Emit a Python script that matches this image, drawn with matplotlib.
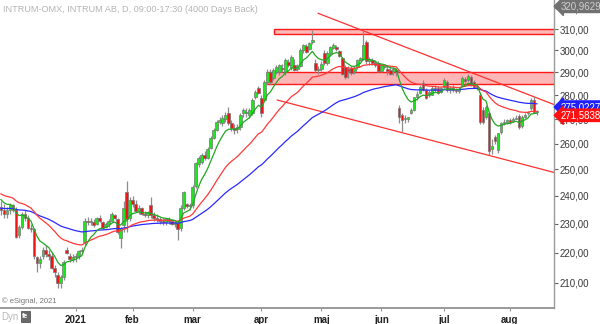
import matplotlib
matplotlib.use("Agg")
import matplotlib.pyplot as plt
import matplotlib.transforms as mtransforms
import numpy as np
from matplotlib.patches import Rectangle
from matplotlib.ticker import FuncFormatter, NullLocator

plt.rcParams['font.family'] = ['Liberation Sans', 'DejaVu Sans']

title = "INTRUM-OMX, INTRUM AB, D, 09:00-17:30 (4000 Days Back)"

# daily bars, one entry per trading day (Dec 2020 .. mid Aug 2021)
opens = [
    # dec
    236, 235, 233.5, 235, 236.5, 235, 226, 229, 233.5, 232, 228.5, 228, 218.5, 216.5, 219, 221, 219.5, 219, 215, 212.5, 210, 212, 221, 219, 218,
    # jan
    218.5, 219, 220.5, 223.5, 231, 230.5, 230.5, 230, 232, 230.5, 229, 230, 231, 233, 231.5, 225, 229.5, 241.5, 232,
    # feb
    238.5, 237, 234.5, 235.5, 233.5, 233, 236.5, 233, 232, 231.5, 231, 230.5, 231.5, 231, 230, 230.3, 228.6, 235.5, 237, 236.2,
    # mar
    236.8, 243.5, 252, 253, 255.5, 254.5, 258.3, 262.3, 265.5, 268.8, 268.4, 270, 272.5, 268.4, 266.5, 265.8, 266.7, 272.5, 272.5, 271.7, 272.5, 279.3, 283.1,
    # apr
    278.9, 278, 285.6, 290, 287.6, 290.2, 290.2, 292, 290.2, 294.7, 292.5, 293.4, 291.5, 293, 300, 302, 300.5, 303.9, 294.3, 291,
    # maj
    291.5, 298.9, 294.3, 298.9, 301.1, 301.5, 299.5, 296.5, 292.4, 291.5, 292, 290.5, 292.4, 295.6, 296, 303.9, 295, 295.5, 294.3, 294.3,
    # jun
    290.5, 292.5, 291.5, 291, 290.5, 291, 274.6, 271.7, 270, 270.2, 272.5, 274, 279.3, 281, 285.4, 282.3, 280, 280.2, 283, 283, 281.5,
    # jul
    283.6, 285.8, 282.5, 283, 282.5, 282, 284.5, 287, 286.5, 288, 285.8, 283.5, 280.2, 273.8, 271, 272.5, 258, 262.7, 257.5, 264.7, 268.4, 268.5,
    # aug
    269.6, 269.2, 270.2, 271.3, 267, 271, 272.5, 274.6, 278, 273,
]
highs = [
    238, 237, 236, 237.5, 237, 236, 229.5, 234, 235, 233, 230, 228.5, 219, 219, 222, 222.5, 221, 220, 216, 213.5, 212.5, 217.5, 222, 220, 219.5,
    220, 221, 222, 232, 232.5, 232, 231.5, 232.5, 233, 231, 230.5, 231.5, 234, 233.5, 232, 229, 238, 245.5, 239.5,
    240, 238.5, 236.5, 236, 234.5, 234.5, 239.5, 234, 233.5, 232.5, 232, 232, 232.5, 231.5, 231, 231, 236.5, 242, 237.5, 237.5,
    244, 253, 255, 256.5, 257, 258.5, 263, 266.5, 269.5, 271, 271.5, 273, 275, 269.5, 268, 268, 272.5, 274.5, 274.5, 274.5, 279, 282.5, 284,
    280, 286.5, 291.5, 291.5, 292, 293.5, 294, 294, 296.5, 296, 298, 296, 294, 301, 303, 303, 304, 309.5, 296, 293,
    295, 300, 299.5, 302, 303.5, 302.5, 300, 297, 293.5, 293, 293, 293, 296, 297, 309.5, 305, 297, 296.5, 295.5, 295,
    293.5, 293.5, 293, 292.5, 292.5, 292, 276, 272.5, 271.5, 271, 274.5, 279.5, 282, 284.5, 286.5, 283, 282.5, 284, 284.5, 284, 283.5,
    287.5, 286.5, 284, 284.5, 283, 283.5, 288.5, 288, 289.5, 289, 286.5, 285, 281.5, 275, 276, 273.5, 262, 263.5, 264.5, 269, 270, 270,
    270.5, 271, 271.5, 272, 271.5, 272.5, 273.5, 279, 279.5, 274,
]
lows = [
    233, 232, 232, 233.5, 234, 225, 225, 228, 231, 228, 227, 218, 213.5, 215, 218, 218.5, 217.5, 214.5, 212, 208.5, 208.5, 211, 219.5, 217, 217,
    217, 218, 219.5, 222.5, 229.5, 229.5, 229, 229.5, 230.5, 228, 228.5, 229, 230.5, 231.5, 226.5, 221.5, 227, 227, 231,
    236, 234, 233.5, 233, 232.5, 232, 232, 231, 230.5, 230, 229.5, 229.5, 230, 229.5, 229, 224.4, 227.5, 235, 235.5, 235,
    235.5, 243, 251, 252, 253.5, 254, 258, 262, 265, 268, 267, 269, 267.5, 265, 264, 264.5, 265.5, 271, 271, 270.5, 271.5, 278.5, 280.5,
    271, 277.5, 285, 285, 286.5, 289.5, 289, 290, 289, 292.5, 291, 290.5, 290.5, 292.5, 299, 299, 300, 303, 290, 289.5,
    290.5, 293.5, 293.5, 298, 300.5, 299.5, 297, 288.9, 287, 287.5, 289, 289.5, 291.5, 295, 295.5, 294, 293.5, 293.5, 292.5, 290,
    290, 291.5, 288.9, 289, 289, 288.5, 268.5, 264.7, 268.5, 269, 272, 273.5, 278, 280.5, 282, 278.5, 279.5, 280, 281.5, 280.5, 281,
    283, 281.5, 281, 281.5, 281, 281, 284, 285.5, 286, 284, 283, 282.5, 268, 268, 270, 255.5, 256, 260, 256.5, 264, 267.5, 268,
    268, 268.8, 270, 266, 266.5, 270.5, 271.5, 274, 272.5, 271.5,
]
closes = [
    235, 233.5, 235, 236.5, 235, 225.5, 229, 233.5, 232, 228.5, 228, 219, 216.5, 218, 221, 219.5, 219, 215, 213.5, 210, 212, 217, 220, 218, 218.5,
    219, 220.5, 221, 231, 230.5, 231, 229.5, 232, 231, 228.5, 230, 231, 233.5, 232, 227, 228.5, 235.5, 231.5, 238.5,
    237, 234.5, 235.5, 233.5, 233, 234, 233, 232, 231.5, 231, 230.5, 231.5, 231, 230, 230.5, 228, 235.5, 241.5, 236.2, 236.8,
    243.3, 252.5, 254.4, 255.5, 254.5, 258, 262.3, 265.5, 268.8, 269.6, 270.5, 271.7, 268.4, 266.3, 265.5, 266.7, 271.7, 273.8, 273, 273.8, 278, 281.4, 281,
    272.5, 285.6, 290.2, 286, 291.1, 292.4, 293.4, 291.5, 295.6, 293.4, 297, 291.1, 292.5, 300, 302.5, 299.3, 303.4, 304.8, 291.1, 291.5,
    294, 294.3, 298.9, 301.6, 302.5, 300.5, 297.5, 289.5, 288, 290.5, 289.7, 292, 295.6, 296.5, 302.5, 295, 296, 294.3, 293.5, 290.5,
    293.2, 292.5, 290.5, 289.5, 291.5, 290, 270.8, 269.6, 270.4, 270.8, 273.8, 279.3, 280.5, 283.6, 282.3, 279, 281.5, 283.2, 282.5, 281, 283,
    286.7, 282.3, 283, 282.5, 282, 282.8, 287.6, 286.2, 288.5, 284.5, 283.6, 284, 268.8, 269, 275, 257, 259, 261, 264.3, 268.4, 269, 269.6,
    268.6, 270.2, 270.6, 266.7, 271, 271.7, 273, 278, 273, 273,
]

# first bar of each month
month_pos = [25, 44, 64, 87, 107, 127, 148, 170]
month_lbl = ['2021', 'feb', 'mar', 'apr', 'maj', 'jun', 'jul', 'aug']

price_ticks = [210, 220, 230, 240, 250, 260, 270, 280, 290, 300, 310, 320]

# moving averages: (period, value at left edge of chart)
ma_green = (8, 239.7)
ma_red = (26, 241.2)
ma_blue = (60, 235.5)

# values in the price axis tags
tag_top = 320.9629
tag_blue = 275.0227
tag_red = 271.5838

# zones: (first bar, low, high)
zone_top = (91.3, 307.6, 310.0)
zone_mid = (88.7, 284.9, 290.2)

# trend lines: bars, prices
trend_upper = ([106, 184.7], [317.5, 276.1])
trend_lower = ([92.3, 184.7], [278.0, 248.8])


def ema(values, period, start):
    k = 2.0 / (period + 1)
    out = []
    e = start
    for v in values:
        e += k * (v - e)
        out.append(e)
    return out


def comma(v, nd):
    return f"{v:.{nd}f}".replace('.', ',')


fig = plt.figure(figsize=(6, 3.24), dpi=100)
ax = fig.add_axes([0, 16 / 324, 554 / 600, 308 / 324])
ax.set_yscale('log')
ax.set_xlim(-0.3, 184.7)
ax.set_ylim(202.1, 324.1)

# zones
for x0, lo, hi in (zone_top, zone_mid):
    ax.add_patch(Rectangle((x0, lo), 200, hi - lo, fc='#ffb6b6', ec='#ff1a1a', lw=1.0, zorder=1))

# trend lines
ax.plot(*trend_upper, color='#ff3030', lw=0.9, zorder=2)
ax.plot(*trend_lower, color='#ff3030', lw=0.9, zorder=2)

idx = np.arange(len(closes))
o = np.array(opens)
c = np.array(closes)
body_lo = np.minimum(o, c)
body_h = np.maximum(np.abs(c - o), 0.35)
cols = np.where(c >= o, '#1ee61e', '#f01414')

ax.vlines(idx, lows, highs, color='#8c8c8c', lw=0.9, zorder=3)
ax.bar(idx, body_h, bottom=body_lo, width=0.88, color=cols, edgecolor='#777777', linewidth=0.5, zorder=4)

# moving averages
ax.plot(idx, ema(closes, *ma_blue), color='#2a2aff', lw=0.9, zorder=5)
ax.plot(idx, ema(closes, *ma_red), color='#ff3a3a', lw=0.9, zorder=5)
ax.plot(idx, ema(closes, *ma_green), color='#22a822', lw=0.9, zorder=5)

# axes styling
for s in ('left', 'top'):
    ax.spines[s].set_visible(False)
ax.spines['bottom'].set_color('#9a9a9a')
ax.spines['bottom'].set_linewidth(1.4)
ax.spines['right'].set_color('#9a9a9a')
ax.spines['right'].set_linewidth(1.0)

ax.yaxis.tick_right()
ax.set_yticks(price_ticks)
ax.yaxis.set_minor_locator(NullLocator())
ax.yaxis.set_major_formatter(FuncFormatter(lambda v, p: comma(v, 2)))
ax.tick_params(axis='y', length=3, width=0.8, color='#666666', pad=1, labelsize=7, labelcolor='#3a3a3a')

ax.set_xticks(month_pos)
ax.set_xticklabels(month_lbl, fontweight='bold')
ax.tick_params(axis='x', length=2, width=0.8, color='#999999', pad=3, labelsize=7, labelcolor='#222222')

# price tags on the axis
trans = mtransforms.blended_transform_factory(ax.transAxes, ax.transData)
for val, fc, tc in ((tag_top, '#707070', '#d0d0d0'), (tag_blue, '#2020ff', 'white'), (tag_red, '#ff1010', 'white')):
    ax.text(1.012, val, comma(val, 4), transform=trans, color=tc, fontsize=7, va='center', ha='left',
            bbox=dict(boxstyle='larrow,pad=0.12', fc=fc, ec=fc), clip_on=False, zorder=10)

# texts
fig.text(3 / 600, 1 - 10 / 324, title, fontsize=6.6, color='#b4b4b4', va='center')
ax.text(0.004, 0.01, '\u00a9 eSignal, 2021', transform=ax.transAxes, fontsize=5.5, color='#777777', va='bottom')
fig.text(1 / 600, 7 / 324, 'Dyn', fontsize=7, color='#bbbbbb', va='center')
fig.patches.append(Rectangle((21 / 600, 2 / 324), 9 / 600, 11 / 324, transform=fig.transFigure,
                             fc='#6a6a6a', ec='#444444', lw=0.5))
fig.text(25.5 / 600, 7.5 / 324, 'fe', fontsize=5, color='white', ha='center', va='center', fontweight='bold')

fig.savefig('out.png', dpi=100)
